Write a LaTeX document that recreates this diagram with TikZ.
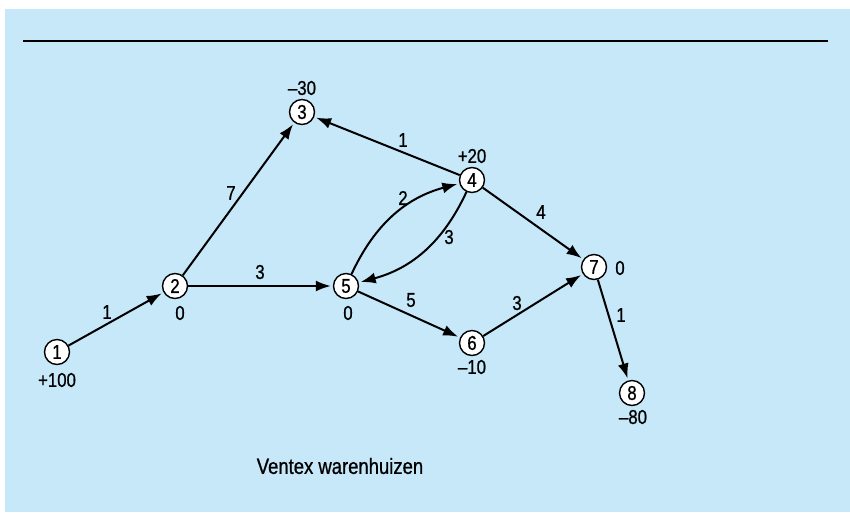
\documentclass[tikz,border=0pt]{standalone}
\usepackage{fontspec}
\setmainfont{Liberation Sans}[FakeStretch=0.84,FakeBold=0.8]
\usetikzlibrary{arrows.meta}
\definecolor{bgblue}{RGB}{198,232,248}
\begin{document}
\begin{tikzpicture}[x=1pt,y=-1pt,
  vertex/.style={circle,draw=black,fill=white,line width=1.4pt,minimum size=25pt,inner sep=0pt,font=\fontsize{20}{22}\selectfont},
  val/.style={inner sep=0pt,font=\fontsize{20}{22}\selectfont},
  lbl/.style={inner sep=0pt,font=\fontsize{20}{22}\selectfont},
  edge/.style={line width=2pt,-{Latex[length=15pt,width=11pt]},shorten >=2pt}]
\useasboundingbox (0,0) rectangle (850,512);
\fill[bgblue] (5,9) rectangle (850,512);
\coordinate (ruleL) at (23,41);
\coordinate (ruleR) at (828,41);
\draw[line width=2.4pt] (ruleL) -- (ruleR);
% vertices
\node[vertex] (n1) at (57,352) {1};
\node[vertex] (n2) at (175,286) {2};
\node[vertex] (n3) at (302,112) {3};
\node[vertex] (n4) at (472,180) {4};
\node[vertex] (n5) at (346,286) {5};
\node[vertex] (n6) at (472,343) {6};
\node[vertex] (n7) at (594,267) {7};
\node[vertex] (n8) at (632,393) {8};
% supplies / demands
\node[val] (v1) at (57,380) {+100};
\node[val] (v2) at (180,313) {0};
\node[val] (v3) at (302,88) {–30};
\node[val] (v4) at (472,156) {+20};
\node[val] (v5) at (348,313) {0};
\node[val] (v6) at (472,367) {–10};
\node[val] (v7) at (620,268) {0};
\node[val] (v8) at (633,417) {–80};
% edges
\draw[edge] (n1) -- (n2);
\draw[edge] (n2) -- (n3);
\draw[edge] (n2) -- (n5);
\draw[edge] (n4) -- (n3);
\draw[edge] (n5) to[bend left=25] (n4);
\draw[edge] (n4) to[bend left=25] (n5);
\draw[edge] (n4) -- (n7);
\draw[edge] (n5) -- (n6);
\draw[edge] (n6) -- (n7);
\draw[edge] (n7) -- (n8);
% edge labels
\node[lbl] (e12) at (107,312) {1};
\node[lbl] (e23) at (231,193) {7};
\node[lbl] (e25) at (260,272) {3};
\node[lbl] (e43) at (403,140) {1};
\node[lbl] (e54) at (403,198) {2};
\node[lbl] (e45) at (449,237) {3};
\node[lbl] (e47) at (541,212) {4};
\node[lbl] (e56) at (411,300) {5};
\node[lbl] (e67) at (517,303) {3};
\node[lbl] (e78) at (621,315) {1};
% caption
\node[inner sep=0pt,font=\fontsize{22}{24}\selectfont] (cap) at (340,466) {Ventex warenhuizen};
\end{tikzpicture}
\end{document}
